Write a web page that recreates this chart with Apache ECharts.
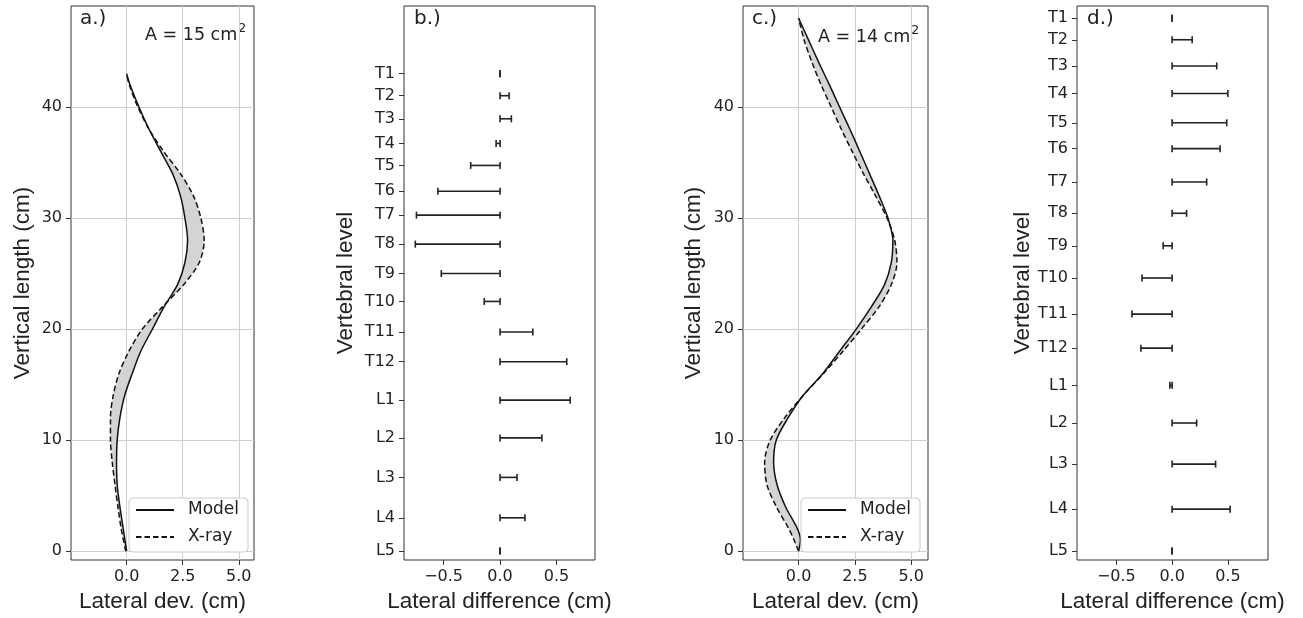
<!DOCTYPE html>
<html>
<head>
<meta charset="utf-8">
<script src="https://cdn.jsdelivr.net/npm/echarts@6/dist/echarts.min.js"></script>
<style>
  html, body { margin: 0; background: #fff; }
  #main { width: 1303px; height: 618px; }
</style>
</head>
<body>
<div id="main"></div>
<script>
// a.) model vs x-ray, lateral deviation (cm) at each vertical length (cm)
const aHeight = [0, 2, 4, 6, 8, 10, 12, 14, 16, 18, 20, 22, 24, 26, 28, 30, 32, 34, 36, 38, 40, 42, 43];
const aModel  = [0, -0.15, -0.3, -0.42, -0.45, -0.42, -0.3, -0.09, 0.25, 0.63, 1.15, 1.67, 2.27, 2.6, 2.72, 2.6, 2.4, 2.05, 1.52, 1.0, 0.55, 0.15, 0];
const aXray   = [-0.04, -0.24, -0.39, -0.52, -0.64, -0.72, -0.72, -0.6, -0.34, 0.1, 0.7, 1.6, 2.54, 3.24, 3.46, 3.31, 2.98, 2.4, 1.65, 1.0, 0.5, 0.12, 0];

// c.)
const cHeight = [0, 1, 2, 4, 6, 8, 10, 12, 14, 16, 18, 20, 22, 24, 26, 28, 30, 32, 34, 36, 38, 40, 42, 44, 46, 48];
const cModel  = [0, 0.08, -0.05, -0.58, -0.96, -1.11, -0.99, -0.47, 0.19, 1.08, 1.82, 2.56, 3.23, 3.82, 4.12, 4.19, 3.97, 3.58, 3.15, 2.72, 2.28, 1.82, 1.37, 0.9, 0.45, 0];
const cXray   = [0, -0.2, -0.43, -0.99, -1.41, -1.51, -1.26, -0.62, 0.19, 1.11, 1.97, 2.79, 3.57, 4.12, 4.37, 4.27, 3.93, 3.42, 2.88, 2.38, 1.9, 1.45, 1.0, 0.6, 0.25, 0];

// b.) and d.) lateral difference per vertebral level
const levelNames = ['T1', 'T2', 'T3', 'T4', 'T5', 'T6', 'T7', 'T8', 'T9', 'T10', 'T11', 'T12', 'L1', 'L2', 'L3', 'L4', 'L5'];
const bLevelPos = [43, 41.02, 38.94, 36.72, 34.74, 32.41, 30.26, 27.65, 25.0, 22.49, 19.74, 17.06, 13.6, 10.2, 6.64, 3.0, 0];
const bDiff     = [0, 0.08, 0.1, -0.035, -0.26, -0.55, -0.74, -0.75, -0.52, -0.14, 0.29, 0.59, 0.62, 0.37, 0.15, 0.22, 0];
const dLevelPos = [48, 46.06, 43.7, 41.22, 38.58, 36.25, 33.25, 30.43, 27.5, 24.6, 21.35, 18.28, 14.93, 11.54, 7.84, 3.78, 0];
const dDiff     = [0, 0.18, 0.4, 0.5, 0.49, 0.43, 0.31, 0.13, -0.08, -0.27, -0.36, -0.28, -0.02, 0.22, 0.39, 0.52, 0];

const curveTicksX = [0, 2.5, 5];
const curveTicksY = [0, 10, 20, 30, 40];
const diffTicksX = [-0.5, 0, 0.5];

const FONT = 'DejaVu Sans';
const TITLE_FONT = 'Liberation Sans';
const INK = '#222';
const minus = s => s.replace('-', '\u2212');

const chart = echarts.init(document.getElementById('main'));

const baseAxis = {
    axisLine: { show: false, onZero: false },
    axisTick: { show: true, length: 5, lineStyle: { color: '#333', width: 1 } },
    axisLabel: { color: INK, fontFamily: FONT, fontSize: 16, margin: 9 },
    nameTextStyle: { color: INK, fontFamily: TITLE_FONT, fontSize: 22.5 },
    nameLocation: 'middle'
};

const xAx = (idx, min, max, ticks, name, grid) => ({
    ...baseAxis,
    type: 'value', gridIndex: idx, min, max, name, nameGap: 30,
    axisTick: { ...baseAxis.axisTick, customValues: ticks },
    axisLabel: { ...baseAxis.axisLabel, customValues: ticks, formatter: v => minus(v.toFixed(1)) },
    splitLine: { show: grid, lineStyle: { color: '#cfcfcf', width: 1 } }
});

const yAx = (idx, ticks, fmt, name, gap, grid) => ({
    ...baseAxis,
    type: 'value', gridIndex: idx, min: -0.8, max: 49.1, name, nameGap: gap,
    axisTick: { ...baseAxis.axisTick, customValues: ticks },
    axisLabel: { ...baseAxis.axisLabel, customValues: ticks, formatter: fmt },
    splitLine: { show: grid, lineStyle: { color: '#cfcfcf', width: 1 } }
});

const gridStyle = { show: true, borderColor: '#333', borderWidth: 1, backgroundColor: 'transparent' };

// grey band between model and x-ray
const fillSeries = (idx, heights, model, xray) => ({
    type: 'custom', xAxisIndex: idx, yAxisIndex: idx, silent: true, z: 1,
    data: [[0, 0]],
    renderItem: (params, api) => {
        const pts = [];
        heights.forEach((h, i) => pts.push(api.coord([model[i], h])));
        for (let i = heights.length - 1; i >= 0; i--) pts.push(api.coord([xray[i], heights[i]]));
        return { type: 'polygon', shape: { points: pts, smooth: 0.3 }, style: { fill: '#d4d4d4' } };
    }
});

const curve = (idx, name, heights, xs, dashed) => ({
    name, type: 'line', xAxisIndex: idx, yAxisIndex: idx, z: 3,
    data: heights.map((h, i) => [xs[i], h]),
    smooth: 0.3, symbol: 'none', silent: true,
    lineStyle: { color: '#111', width: 1.5, type: dashed ? [5.5, 3] : 'solid' },
    itemStyle: { color: '#111' }
});

// horizontal bars from 0 with caps at each end
const diffSeries = (idx, pos, diff) => ({
    type: 'custom', xAxisIndex: idx, yAxisIndex: idx, silent: true, z: 3,
    data: pos.map((p, i) => [diff[i], p]),
    encode: { x: 0, y: 1 },
    renderItem: (params, api) => {
        const y = api.value(1), v = api.value(0);
        const p0 = api.coord([0, y]), p1 = api.coord([v, y]);
        const h = 3.5;
        const style = { stroke: '#222', lineWidth: 1.6 };
        return {
            type: 'group', children: [
                { type: 'line', shape: { x1: p0[0], y1: p0[1], x2: p1[0], y2: p1[1] }, style },
                { type: 'line', shape: { x1: p0[0], y1: p0[1] - h, x2: p0[0], y2: p0[1] + h }, style },
                { type: 'line', shape: { x1: p1[0], y1: p1[1] - h, x2: p1[0], y2: p1[1] + h }, style }
            ]
        };
    }
});

const legendAt = (left, top) => ({
    data: ['Model', 'X-ray'], left, top, orient: 'vertical',
    backgroundColor: '#fff', borderColor: '#cccccc', borderWidth: 1, borderRadius: 4,
    padding: [3, 9, 6, 6], itemGap: 9, itemWidth: 38, itemHeight: 14,
    selectedMode: false,
    itemStyle: { color: 'transparent', borderColor: 'transparent', borderWidth: 0 },
    textStyle: { color: INK, fontFamily: FONT, fontSize: 17, lineHeight: 18, padding: [0, 0, 0, 9] }
});

const label = (left, top, text, size) => ({
    type: 'text', left, top,
    style: { text, fill: INK, font: `${size}px "${FONT}"` }
});

// "A = .. cm²" with a raised, smaller 2
const areaLabel = (left, top, value) => ({
    type: 'text', left, top,
    style: {
        text: `{m|A = ${value} cm}{s|2}`,
        rich: {
            m: { fill: INK, fontFamily: FONT, fontSize: 17.5, lineHeight: 22, verticalAlign: 'bottom' },
            s: { fill: INK, fontFamily: FONT, fontSize: 12.5, lineHeight: 22, verticalAlign: 'top', padding: [0, 0, 8, 1] }
        }
    }
});

chart.setOption({
    animation: false,
    backgroundColor: '#fff',
    grid: [
        { left: 71, top: 6, width: 183, height: 557, ...gridStyle },
        { left: 404, top: 6, width: 191, height: 557, ...gridStyle },
        { left: 743, top: 6, width: 185, height: 557, ...gridStyle },
        { left: 1077, top: 6, width: 191, height: 557, ...gridStyle }
    ],
    xAxis: [
        xAx(0, -2.48, 5.68, curveTicksX, 'Lateral dev. (cm)', true),
        xAx(1, -0.85, 0.84, diffTicksX, 'Lateral difference (cm)', false),
        xAx(2, -2.47, 5.75, curveTicksX, 'Lateral dev. (cm)', true),
        xAx(3, -0.853, 0.86, diffTicksX, 'Lateral difference (cm)', false)
    ],
    yAxis: [
        yAx(0, curveTicksY, v => String(v), 'Vertical length (cm)', 37, true),
        yAx(1, bLevelPos, v => levelNames[bLevelPos.indexOf(v)], 'Vertebral level', 47, false),
        yAx(2, curveTicksY, v => String(v), 'Vertical length (cm)', 38, true),
        yAx(3, dLevelPos, v => levelNames[dLevelPos.indexOf(v)], 'Vertebral level', 43, false)
    ],
    legend: [legendAt(129, 498), legendAt(801, 498)],
    graphic: [
        label(80, 9, 'a.)', 20),
        areaLabel(145, 22, 15),
        label(414, 9, 'b.)', 20),
        label(752, 9, 'c.)', 20),
        areaLabel(818, 24, 14),
        label(1087, 9, 'd.)', 20)
    ],
    series: [
        fillSeries(0, aHeight, aModel, aXray),
        curve(0, 'Model', aHeight, aModel, false),
        curve(0, 'X-ray', aHeight, aXray, true),
        diffSeries(1, bLevelPos, bDiff),
        fillSeries(2, cHeight, cModel, cXray),
        curve(2, 'Model', cHeight, cModel, false),
        curve(2, 'X-ray', cHeight, cXray, true),
        diffSeries(3, dLevelPos, dDiff)
    ]
});
</script>
</body>
</html>
